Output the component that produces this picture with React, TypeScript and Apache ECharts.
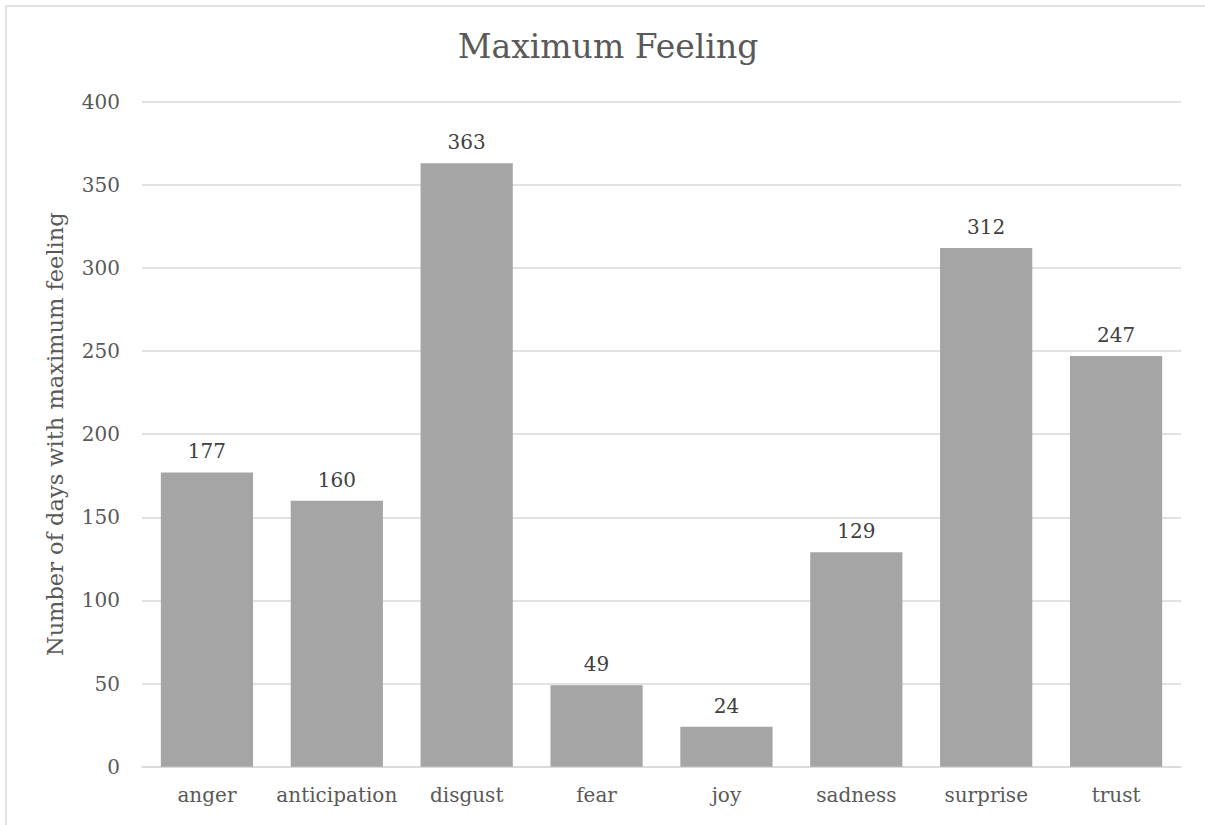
import React, { useEffect, useRef } from "react";
import * as echarts from "echarts";

const categories = ["anger", "anticipation", "disgust", "fear", "joy", "sadness", "surprise", "trust"];
const days = [177, 160, 363, 49, 24, 129, 312, 247];
const yTicks = { min: 0, max: 400, interval: 50 };

const FONT = "'DejaVu Serif', Georgia, serif";
const TEXT = "#595959";

export default function App() {
  const ref = useRef<HTMLDivElement>(null);

  useEffect(() => {
    document.body.style.margin = "0";
    const chart = echarts.init(ref.current!, null, { renderer: "svg" });
    chart.setOption({
      animation: false,
      backgroundColor: "#ffffff",
      title: {
        text: "Maximum Feeling",
        left: 603,
        textAlign: "center",
        top: 25,
        textStyle: { fontFamily: FONT, fontSize: 33, fontWeight: "normal", color: TEXT },
      },
      graphic: [
        {
          type: "rect",
          shape: { x: 6, y: 6, width: 1400, height: 1000 },
          style: { fill: "none", stroke: "#d9d9d9", lineWidth: 1.5 },
          silent: true,
        },
      ],
      grid: { left: 142, right: 24, top: 101.7, bottom: 58.3, containLabel: false },
      xAxis: {
        type: "category",
        data: categories,
        axisLine: { show: true, lineStyle: { color: "#d9d9d9", width: 1.5 } },
        axisTick: { show: false },
        axisLabel: { color: TEXT, fontFamily: FONT, fontSize: 20, margin: 18, interval: 0 },
      },
      yAxis: {
        type: "value",
        min: yTicks.min,
        max: yTicks.max,
        interval: yTicks.interval,
        name: "Number of days with maximum feeling",
        nameLocation: "middle",
        nameGap: 76,
        nameTextStyle: { color: TEXT, fontFamily: FONT, fontSize: 22.5 },
        axisLine: { show: false },
        axisTick: { show: false },
        axisLabel: { color: TEXT, fontFamily: FONT, fontSize: 20, margin: 22 },
        splitLine: { lineStyle: { color: "#d9d9d9", width: 1.5 } },
      },
      series: [
        {
          type: "bar",
          data: days,
          barCategoryGap: "29%",
          itemStyle: { color: "#a5a5a5" },
          label: {
            show: true,
            position: "top",
            distance: 11,
            color: "#404040",
            fontFamily: FONT,
            fontSize: 20,
          },
        },
      ],
    });
    return () => chart.dispose();
  }, []);

  return (
    <div
      ref={ref}
      style={{ position: "absolute", left: 0, top: 0, width: 1205, height: 825 }}
    />
  );
}
